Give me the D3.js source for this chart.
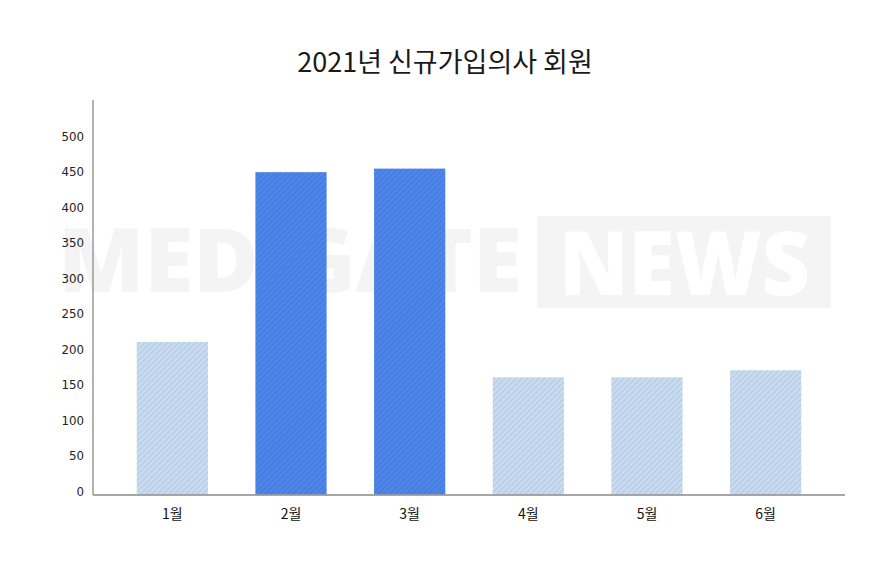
<!DOCTYPE html>
<html>
<head>
<meta charset="utf-8">
<script src="https://cdn.jsdelivr.net/npm/d3@7"></script>
<style>
  html, body { margin: 0; padding: 0; background: #fff; }
  svg { display: block; }
</style>
</head>
<body>
<svg id="chart" width="889" height="572"></svg>
<script>
const title = "2021년 신규가입의사 회원";
const months = ["1월", "2월", "3월", "4월", "5월", "6월"];
const members = [215, 454, 459, 165, 165, 175];
const highlighted = [false, true, true, false, false, false];
const yTicks = [0, 50, 100, 150, 200, 250, 300, 350, 400, 450, 500];

const svg = d3.select("#chart");
const W = 889, H = 572;
svg.append("rect").attr("width", W).attr("height", H).attr("fill", "#fff");

// patterns
const defs = svg.append("defs");
function hatch(id, base, stripe) {
  const p = defs.append("pattern").attr("id", id)
    .attr("patternUnits", "userSpaceOnUse").attr("width", 4).attr("height", 4)
    .attr("patternTransform", "rotate(45)");
  p.append("rect").attr("width", 4).attr("height", 4).attr("fill", base);
  p.append("rect").attr("width", 1.3).attr("height", 4).attr("fill", stripe);
}
hatch("hLight", "#c9dcf0", "#b5cae6");
hatch("hDark", "#4e86ea", "#4479dd");

// watermark (background, behind everything)
const wm = svg.append("g").attr("aria-hidden", "true");
wm.append("text").attr("x", 58).attr("y", 292)
  .attr("font-family", "'Open Sans', sans-serif").attr("font-weight", 800)
  .attr("font-size", 89).attr("fill", "#f4f4f4")
  .attr("textLength", 464).attr("lengthAdjust", "spacingAndGlyphs")
  .text("MEDIGATE");
wm.append("rect").attr("x", 537).attr("y", 216).attr("width", 294).attr("height", 92).attr("fill", "#f4f4f4");
wm.append("text").attr("x", 559).attr("y", 295)
  .attr("font-family", "'Open Sans', sans-serif").attr("font-weight", 800)
  .attr("font-size", 89).attr("fill", "#ffffff")
  .attr("textLength", 251).attr("lengthAdjust", "spacingAndGlyphs")
  .text("NEWS");

// scales
const x = d3.scaleBand().domain(months).range([113, 825]).paddingInner(0.4).paddingOuter(0.2);
const y = d3.scaleLinear().domain([0, 500]).range([494.5, 139.5]);

// bars
svg.append("g").selectAll("rect").data(months).join("rect")
  .attr("x", d => x(d))
  .attr("width", x.bandwidth())
  .attr("y", (d, i) => y(members[i]))
  .attr("height", (d, i) => y(0) - y(members[i]))
  .attr("fill", (d, i) => highlighted[i] ? "url(#hDark)" : "url(#hLight)");

// y axis
const yAxis = d3.axisLeft(y).tickValues(yTicks).tickSize(0).tickPadding(9);
const gy = svg.append("g").attr("transform", "translate(93,0)").call(yAxis);
gy.select(".domain").remove();
gy.selectAll("text").attr("font-family", "'DejaVu Sans', Verdana, sans-serif")
  .attr("font-size", 11.8).attr("fill", "#222").attr("dy", "0.05em");
svg.append("line").attr("x1", 93).attr("x2", 93).attr("y1", 100).attr("y2", 495)
  .attr("stroke", "#8a8a8a").attr("stroke-width", 1.3);

// x axis
const xAxis = d3.axisBottom(x).tickSize(0).tickPadding(14);
const gx = svg.append("g").attr("transform", "translate(0,495)").call(xAxis);
gx.select(".domain").remove();
gx.selectAll("text").attr("font-family", "'Noto Sans CJK KR', sans-serif")
  .attr("font-size", 14).attr("fill", "#111");
svg.append("line").attr("x1", 93).attr("x2", 845).attr("y1", 495).attr("y2", 495)
  .attr("stroke", "#8a8a8a").attr("stroke-width", 1.3);

// title
svg.append("text").attr("x", 445).attr("y", 72).attr("text-anchor", "middle")
  .attr("font-family", "'Noto Sans CJK KR', sans-serif").attr("font-size", 27)
  .attr("font-weight", 400).attr("fill", "#1a1a1a").text(title);
</script>
</body>
</html>
